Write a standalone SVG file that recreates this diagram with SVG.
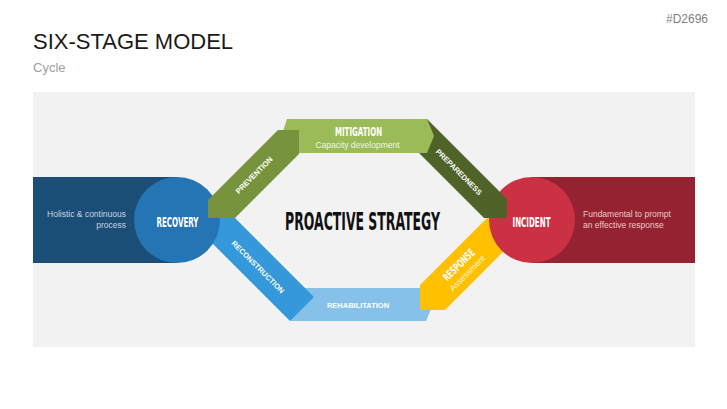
<svg xmlns="http://www.w3.org/2000/svg" width="727" height="409" viewBox="0 0 727 409">
<style>
.cond{font-family:"DejaVu Sans Condensed","DejaVu Sans",sans-serif;font-weight:bold;fill:#fff;text-anchor:middle}
.band{font-family:"Liberation Sans",Arial,sans-serif;font-weight:bold;font-size:7.5px;fill:#fff;text-anchor:middle}
.desc{font-family:"Liberation Sans",Arial,sans-serif;font-size:8.5px}
.hdr{font-family:"Liberation Sans",Arial,sans-serif}
</style>
<rect width="727" height="409" fill="#ffffff"/>
<g id="header">
<text class="hdr" x="33" y="49" font-size="22" fill="#1a1a1a">SIX-STAGE MODEL</text>
<text class="hdr" x="33" y="72" font-size="13" fill="#a0a0a0">Cycle</text>
<text class="hdr" x="708" y="23" font-size="12" fill="#808080" text-anchor="end">#D2696</text>
</g>
<rect id="panel" x="33" y="92" width="662" height="255" fill="#f2f2f2"/>
<g id="rehabilitation">
<polygon points="295,288 440,288 426,321 290,321" fill="#85c1e9"/>
<text class="band" x="358" y="308">REHABILITATION</text>
</g>
<g id="reconstruction">
<polygon points="208,218 235,218 314,297 290,321 208,239" fill="#3498db"/>
<text class="band" transform="translate(258,267) rotate(45)" y="2.7">RECONSTRUCTION</text>
</g>
<g id="response">
<polygon points="487,218 537,218 445,310 420,310 420,285" fill="#ffc000"/>
<g transform="translate(463,269) rotate(-45)">
<text class="cond" transform="translate(0,-2) scale(0.68,1)" font-size="11" textLength="58.8" lengthAdjust="spacingAndGlyphs">RESPONSE</text>
<text class="desc" y="9" fill="#fff6d0" text-anchor="middle">Assessment</text>
</g>
</g>
<g id="recovery">
<rect x="33" y="177" width="144" height="86" fill="#1a4e76"/>
<circle cx="177" cy="220" r="43" fill="#2574b3"/>
<text class="desc" x="126" y="217" fill="#c5d3e0" text-anchor="end">Holistic &amp; continuous</text>
<text class="desc" x="126" y="228" fill="#c5d3e0" text-anchor="end">process</text>
<text class="cond" transform="translate(177.5,226.5) scale(0.6,1)" font-size="14" textLength="70" lengthAdjust="spacingAndGlyphs">RECOVERY</text>
</g>
<g id="incident">
<rect x="532" y="177" width="163" height="86" fill="#952230"/>
<circle cx="532" cy="220" r="43" fill="#cb3142"/>
<text class="desc" x="583" y="217" fill="#ebc7cc">Fundamental to prompt</text>
<text class="desc" x="583" y="227.5" fill="#ebc7cc">an effective response</text>
<text class="cond" transform="translate(531.5,226.5) scale(0.6,1)" font-size="14" textLength="63.3" lengthAdjust="spacingAndGlyphs">INCIDENT</text>
</g>
<g id="preparedness">
<polygon points="410,119 427,119 507,199 507,218 484,218 419,153 410,153" fill="#4f6228"/>
<text class="band" transform="translate(459,172) rotate(45)" y="2.7">PREPAREDNESS</text>
</g>
<g id="mitigation">
<polygon points="287,119 427,119 434,136 427,153 276,153" fill="#9bbb59"/>
<text class="cond" transform="translate(358.5,136) scale(0.62,1)" font-size="12.5" textLength="76" lengthAdjust="spacingAndGlyphs">MITIGATION</text>
<text class="desc" x="357.5" y="147.5" fill="#f0f6e4" text-anchor="middle">Capacity development</text>
</g>
<g id="prevention">
<polygon points="278,130 299,130 299,154 235,218 208,218 208,200" fill="#77933c"/>
<text class="band" transform="translate(254,175) rotate(-45)" y="2.7">PREVENTION</text>
</g>
<g id="proactive-strategy">
<text transform="translate(362.5,230) scale(0.6,1)" font-family="DejaVu Sans Condensed, DejaVu Sans, sans-serif" font-weight="bold" font-size="24" fill="#111111" text-anchor="middle" textLength="258" lengthAdjust="spacingAndGlyphs">PROACTIVE STRATEGY</text>
</g>
</svg>
